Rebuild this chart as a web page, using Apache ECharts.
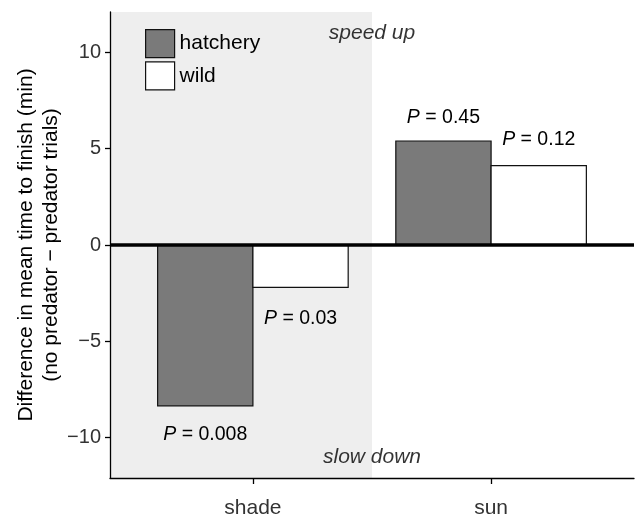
<!DOCTYPE html>
<html><head><meta charset="utf-8">
<script src="https://cdn.jsdelivr.net/npm/echarts@6/dist/echarts.min.js"></script>
<style>html,body{margin:0;padding:0;background:#fff}#c{width:635px;height:516px}</style>
</head><body><div id="c"></div>
<script>
// ---- data ----
const categories = ['shade', 'sun'];
const seriesNames = ['hatchery', 'wild'];
const hatchery = [-8.35, 5.4];
const wild = [-2.2, 4.12];
const hatcheryP = ['0.008', '0.45'];
const wildP = ['0.03', '0.12'];
const yTicks = [-10, -5, 0, 5, 10];
const annotationText = ['speed up', 'slow down'];
const annotationY = [11, -11];
const yTitle = 'Difference in mean time to finish (min)\n(no predator \u2212 predator trials)';

// ---- styling ----
const FF = '"Liberation Sans", Arial, Helvetica, sans-serif';
const HATCH_COL = '#7a7a7a';
const WILD_COL = '#ffffff';
const EDGE = '#111111';
const Y_MIN = -12.1, Y_MAX = 12.1;
const X_MIN = -0.6, X_MAX = categories.length - 1 + 0.6;
const BAR_W = 0.4;
const hDist = [29, 23];   // px from bar end to label centre
const wDist = [31, 26];

const catIdx = categories.map((c, i) => i);

const pRich = {
  i: { fontStyle: 'italic', fontSize: 19.5, fontFamily: FF, fill: '#000' },
  n: { fontSize: 19.5, fontFamily: FF, fill: '#000' }
};

function barSeries(name, values, pTexts, offset, color, dists) {
  return {
    name: name, type: 'custom', z: 3, silent: true,
    itemStyle: { color: color, borderColor: EDGE, borderWidth: 1.2 },
    data: values.map((v, i) => [catIdx[i], v]),
    encode: { x: 0, y: 1 },
    renderItem: function (params, api) {
      const c = api.value(0), v = api.value(1);
      const p0 = api.coord([c + offset - BAR_W / 2, 0]);
      const p1 = api.coord([c + offset + BAR_W / 2, v]);
      const x = p0[0], w = p1[0] - p0[0];
      const y = Math.min(p0[1], p1[1]), h = Math.abs(p1[1] - p0[1]);
      const d = dists[params.dataIndex];
      const ty = v < 0 ? p1[1] + d : p1[1] - d;
      return {
        type: 'group',
        children: [
          { type: 'rect', shape: { x: x, y: y, width: w, height: h },
            style: { fill: color, stroke: EDGE, lineWidth: 1.2 } },
          { type: 'text', x: x + w / 2, y: ty,
            style: { text: '{i|P}{n| = ' + pTexts[params.dataIndex] + '}', rich: pRich,
              align: 'center', verticalAlign: 'middle' } }
        ]
      };
    }
  };
}

const chart = echarts.init(document.getElementById('c'), null, { renderer: 'canvas' });
const option = {
  animation: false,
  backgroundColor: '#fff',
  grid: { left: 110, top: 12, width: 524, height: 466, containLabel: false, outerBoundsMode: 'none' },
  legend: {
    orient: 'vertical', left: 140, top: 24, itemWidth: 29, itemHeight: 28, itemGap: 3,
    selectedMode: false,
    textStyle: { fontSize: 21, fontFamily: FF, color: '#000' },
    data: [
      { name: seriesNames[0], icon: 'rect', itemStyle: { color: HATCH_COL, borderColor: EDGE, borderWidth: 1.2 } },
      { name: seriesNames[1], icon: 'rect', itemStyle: { color: WILD_COL, borderColor: EDGE, borderWidth: 1.2 } }
    ]
  },
  xAxis: {
    type: 'value', min: X_MIN, max: X_MAX, z: 10,
    axisLine: { show: true, onZero: false, lineStyle: { color: '#000', width: 1.3 } },
    axisTick: { show: true, length: 6, customValues: catIdx, lineStyle: { color: '#000', width: 1.3 } },
    axisLabel: { customValues: catIdx, fontSize: 21, fontFamily: FF, color: '#333', margin: 20,
      formatter: v => categories[Math.round(v)] },
    splitLine: { show: false }
  },
  yAxis: {
    type: 'value', min: Y_MIN, max: Y_MAX, z: 10,
    name: yTitle, nameLocation: 'middle', nameGap: 46, nameMoveOverlap: false,
    nameTextStyle: { fontSize: 21, fontFamily: FF, color: '#000', lineHeight: 25, align: 'center' },
    axisLine: { show: true, onZero: false, lineStyle: { color: '#000', width: 1.3 } },
    axisTick: { show: true, length: 5, customValues: yTicks, lineStyle: { color: '#000', width: 1.3 } },
    axisLabel: { customValues: yTicks, fontSize: 20, fontFamily: FF, color: '#333', margin: 9,
      formatter: v => (v < 0 ? '\u2212' + Math.abs(v) : String(v)) },
    splitLine: { show: false }
  },
  series: [
    { // shaded background region (first category half)
      type: 'scatter', z: 0, silent: true, symbolSize: 0, data: [],
      markArea: { silent: true, itemStyle: { color: '#eeeeee' },
        data: [[{ xAxis: X_MIN }, { xAxis: (catIdx[0] + catIdx[1]) / 2 }]] }
    },
    barSeries(seriesNames[0], hatchery, hatcheryP, -BAR_W / 2, HATCH_COL, hDist),
    barSeries(seriesNames[1], wild, wildP, BAR_W / 2, WILD_COL, wDist),
    { // zero line + annotations
      type: 'scatter', z: 6, silent: true, symbolSize: 0,
      data: annotationText.map((t, i) => ({ name: t, value: [(catIdx[0] + catIdx[1]) / 2, annotationY[i]] })),
      label: { show: true, position: 'inside', formatter: p => p.name,
        fontSize: 21, fontStyle: 'italic', fontFamily: FF, color: '#000' },
      markLine: { silent: true, symbol: 'none', label: { show: false },
        lineStyle: { color: '#000', width: 3.5, type: 'solid' },
        data: [{ yAxis: 0 }] }
    }
  ]
};
chart.setOption(option);
</script>
</body></html>
